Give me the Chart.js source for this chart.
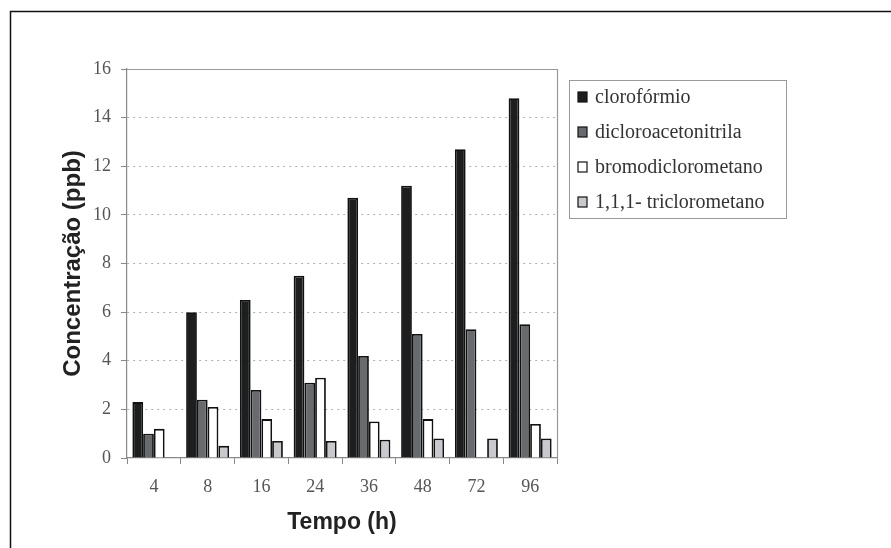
<!DOCTYPE html>
<html>
<head>
<meta charset="utf-8">
<script src="https://cdn.jsdelivr.net/npm/chart.js@4.4.1/dist/chart.umd.min.js"></script>
<style>
  html, body { margin: 0; padding: 0; background: #fff; }
  #wrap { width: 891px; height: 548px; }
</style>
</head>
<body>
<div id="wrap"><canvas id="grafico" width="891" height="548"></canvas></div>
<script>
// dados
const tempos = ["4", "8", "16", "24", "36", "48", "72", "96"]
const cloroformio = [2.3, 6.0, 6.5, 7.5, 10.7, 11.2, 12.7, 14.8]
const dicloroacetonitrila = [1.0, 2.4, 2.8, 3.1, 4.2, 5.1, 5.3, 5.5]
const bromodiclorometano = [1.2, 2.1, 1.6, 3.3, 1.5, 1.6, null, 1.4]
const tricloroetano = [null, 0.5, 0.7, 0.7, 0.75, 0.8, 0.8, 0.8]
const nomes = ["clorofórmio", "dicloroacetonitrila", "bromodiclorometano", "1,1,1- triclorometano"]
const cores = ["#1c1e1f", "#686b6e", "#ffffff", "#c9c9cd"]

const serif = "'Liberation Serif', 'Times New Roman', serif"
const sans = "'Liberation Sans', Arial, sans-serif"

// moldura externa + borda da área do gráfico + legenda
const extras = {
  id: 'extras',
  afterDraw(chart) {
    const ctx = chart.ctx
    const a = chart.chartArea
    ctx.save()
    ctx.strokeStyle = '#111'
    ctx.lineWidth = 1.5
    ctx.beginPath()
    ctx.moveTo(10.5, 548)
    ctx.lineTo(10.5, 11.5)
    ctx.lineTo(891, 11.5)
    ctx.stroke()

    ctx.strokeStyle = '#999'
    ctx.lineWidth = 1.2
    ctx.beginPath()
    ctx.moveTo(a.left, a.top + 0.5)
    ctx.lineTo(a.right + 0.5, a.top + 0.5)
    ctx.lineTo(a.right + 0.5, a.bottom)
    ctx.stroke()

    // legenda
    ctx.strokeStyle = '#9a9a9a'
    ctx.lineWidth = 1
    ctx.strokeRect(569.5, 80.5, 217, 138)
    ctx.font = "20px " + serif
    ctx.textBaseline = 'middle'
    chart.data.datasets.forEach((ds, i) => {
      let y = 97 + i * 35
      ctx.fillStyle = ds.backgroundColor
      ctx.fillRect(578, y - 5, 9, 10)
      ctx.strokeStyle = '#111'
      ctx.lineWidth = 1.2
      ctx.strokeRect(578, y - 5, 9, 10)
      ctx.fillStyle = '#333'
      ctx.fillText(ds.label, 595, y + 1)
    })
    ctx.restore()
  }
}

const data = {
  labels: tempos,
  datasets: [cloroformio, dicloroacetonitrila, bromodiclorometano, tricloroetano].map((valores, i) => ({
    label: nomes[i],
    data: valores,
    backgroundColor: cores[i],
    borderColor: '#111',
    borderWidth: 1.8,
    categoryPercentage: 0.8,
    barPercentage: 1.0
  }))
}

const config = {
  type: 'bar',
  data: data,
  options: {
    responsive: false,
    animation: false,
    layout: { padding: { left: 50, top: 69, right: 334, bottom: 8 } },
    plugins: {
      legend: { display: false },
      tooltip: { enabled: false }
    },
    scales: {
      x: {
        grid: { display: true, drawOnChartArea: false, color: '#888', tickLength: 6, offset: true },
        border: { display: true, color: '#888', width: 1.2 },
        ticks: { color: '#555', font: { family: serif, size: 18 }, padding: 12 },
        title: { display: true, text: 'Tempo (h)', color: '#222', font: { family: sans, size: 23, weight: 'bold' }, padding: { top: 0, bottom: 4 } },
        afterFit(scale) { scale.height = 82 }
      },
      y: {
        min: 0,
        max: 16,
        ticks: { stepSize: 2, color: '#555', font: { family: serif, size: 18 }, padding: 10 },
        grid: {
          color: ctx => (ctx.tick && (ctx.tick.value === 0 || ctx.tick.value === 16)) ? 'rgba(0,0,0,0)' : '#b0b0b0',
          tickColor: '#888',
          tickLength: 6,
          lineWidth: 1
        },
        border: { display: true, color: '#888', width: 1.2, dash: [2, 4] },
        title: { display: true, text: 'Concentração (ppb)', color: '#222', font: { family: sans, size: 24, weight: 'bold' }, padding: { top: 9, bottom: 0 } },
        afterFit(scale) { scale.width = 77 }
      }
    }
  },
  plugins: [extras]
}

document.addEventListener("DOMContentLoaded", () => {
  new Chart(document.getElementById('grafico'), config)
})
</script>
</body>
</html>
